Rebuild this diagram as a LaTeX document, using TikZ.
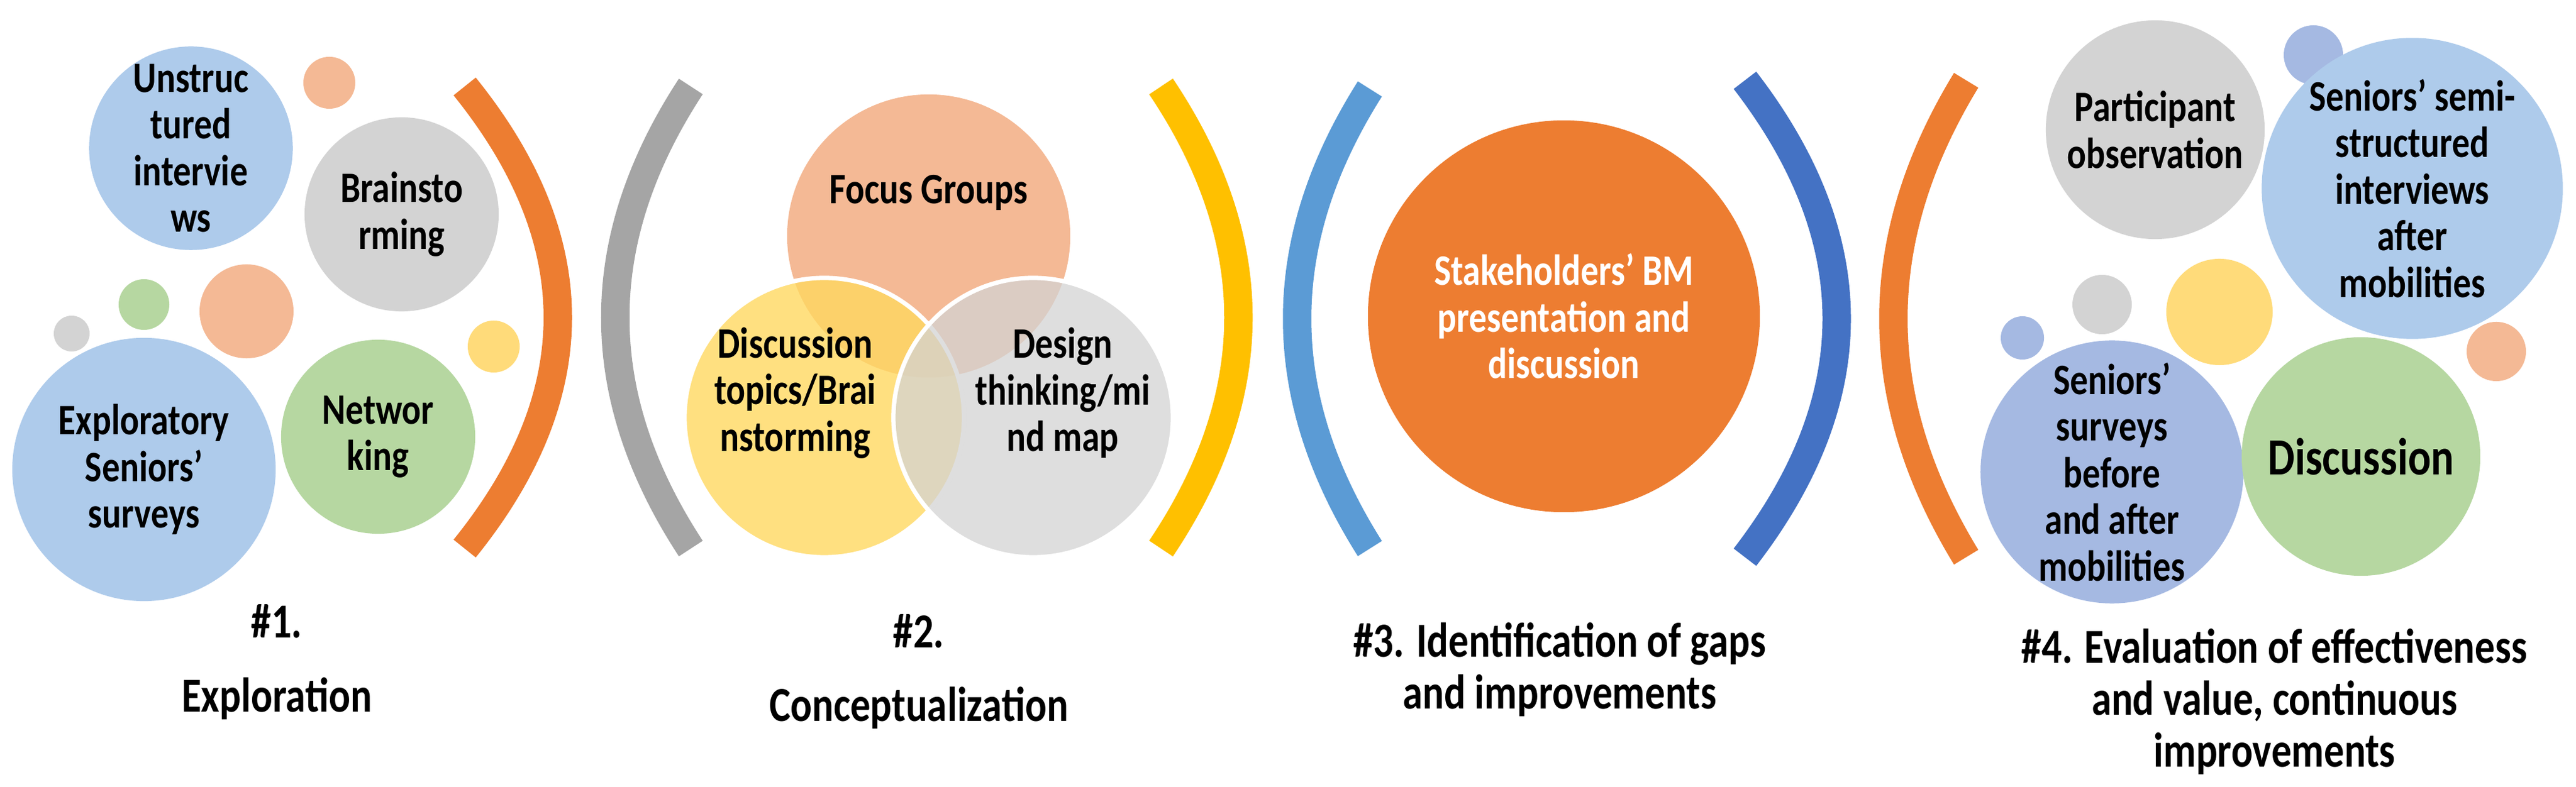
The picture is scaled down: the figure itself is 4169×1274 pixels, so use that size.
\documentclass[tikz,border=0pt]{standalone}
\usepackage{fontspec}
\setmainfont{Carlito}[FakeStretch=0.82]
\definecolor{cblue}{HTML}{AECBEB}
\definecolor{cgray}{HTML}{D3D3D3}
\definecolor{corange}{HTML}{F4B995}
\definecolor{cgreen}{HTML}{B6D7A1}
\definecolor{cyellow}{HTML}{FFDB7A}
\definecolor{vyellow}{HTML}{FFD860}
\definecolor{cpurple}{HTML}{A5B9E2}
\definecolor{aorange}{HTML}{ED7D31}
\definecolor{agray}{HTML}{A5A5A5}
\definecolor{ayellow}{HTML}{FFC000}
\definecolor{alblue}{HTML}{5B9BD5}
\definecolor{adblue}{HTML}{4472C4}
\tikzset{
 bub/.style={circle,inner sep=0pt,align=center,font=\bfseries\fontsize{20}{21.5}\selectfont},
 lab/.style={align=center,font=\bfseries\fontsize{22.5}{24}\selectfont},
 arcline/.style={line width=0.46cm}
}
\begin{document}
\begin{tikzpicture}[x=0.01cm,y=-0.01cm]
\useasboundingbox (0,0) rectangle (4169,1274);
% brackets
\draw[arcline,aorange] (752,140) .. controls (953,389) and (953,639) .. (752,888);
\draw[arcline,agray] (1118,140) .. controls (955,389) and (955,639) .. (1118,888);
\draw[arcline,ayellow] (1879,140) .. controls (2046,389) and (2046,639) .. (1879,888);
\draw[arcline,alblue] (2217,144) .. controls (2060,392) and (2060,640) .. (2217,888);
\draw[arcline,adblue] (2824,130) .. controls (3022,387) and (3022,645) .. (2824,902);
\draw[arcline,aorange] (3182,130) .. controls (3025,387) and (3025,645) .. (3182,902);
% section 1
\node[bub,fill=cblue,minimum size=3.14cm] (u) at (309,240) {Unstruc\\tured\\intervie\\ws};
\node[bub,fill=corange,minimum size=0.84cm] (s1) at (533,134) {};
\node[bub,fill=cgray,minimum size=3.14cm] (b) at (650,347) {Brainsto\\rming};
\node[bub,fill=cgreen,minimum size=0.82cm] (s2) at (233,493) {};
\node[bub,fill=cgray,minimum size=0.58cm] (s3) at (116,540) {};
\node[bub,fill=corange,minimum size=1.52cm] (s4) at (399,504) {};
\node[bub,fill=cyellow,minimum size=0.84cm] (s5) at (799,561) {};
\node[bub,fill=cblue,minimum size=4.26cm] (e) at (233,760) {Exploratory\\Seniors’\\surveys};
\node[bub,fill=cgreen,minimum size=3.14cm] (n) at (612,707) {Networ\\king};
\node[lab,font=\bfseries\fontsize{22.5}{30}\selectfont] (l1) at (448,1072) {\#1.\\[4pt]Exploration};
% section 2 venn
\node[bub,fill=corange,minimum size=4.58cm] (f) at (1503,382) {};
\node[bub,fill=vyellow,fill opacity=0.8,draw=white,line width=2pt,minimum size=4.52cm] (d) at (1334,676) {};
\node[bub,fill=cgray,fill opacity=0.75,draw=white,line width=2pt,minimum size=4.52cm] (g) at (1672,676) {};
\node[bub] (ft) at (1503,312) {Focus Groups};
\node[bub] (dt) at (1287,636) {Discussion\\topics/Brai\\nstorming};
\node[bub] (gt) at (1720,636) {Design\\thinking/mi\\nd map};
\node[lab,font=\bfseries\fontsize{22.5}{30}\selectfont] (l2) at (1487,1087) {\#2.\\[4pt]Conceptualization};
% section 3
\node[bub,fill=aorange,text=white,minimum size=6.34cm] (st) at (2531,512) {Stakeholders’ BM\\presentation and\\discussion};
\node[lab] (l3) at (2524,1084) {\#3. Identification of gaps\\and improvements};
% section 4
\node[bub,fill=cgray,minimum size=3.54cm] (p) at (3488,210) {Participant\\observation};
\node[bub,fill=cpurple,minimum size=0.96cm] (t1) at (3744,89) {};
\node[bub,fill=cblue,minimum size=4.18cm] (ss) at (3904,305) {Seniors’ semi-\\structured\\interviews\\after\\mobilities};
\node[bub,fill=cpurple,minimum size=0.70cm] (t2) at (3273,547) {};
\node[bub,fill=cgray,minimum size=0.96cm] (t3) at (3402,493) {};
\node[bub,fill=cyellow,minimum size=1.72cm] (t4) at (3592,505) {};
\node[bub,fill=corange,minimum size=0.96cm] (t5) at (4040,569) {};
\node[bub,fill=cpurple,minimum size=3.86cm] (sv) at (3418,764) {Seniors’\\surveys\\before\\and after\\mobilities};
\node[bub,fill=cgreen,minimum size=3.86cm,font=\bfseries\fontsize{24}{26}\selectfont] (di) at (3821,739) {Discussion};
\node[lab] (l4) at (3681,1136) {\#4. Evaluation of effectiveness\\and value, continuous\\improvements};
\end{tikzpicture}
\end{document}
